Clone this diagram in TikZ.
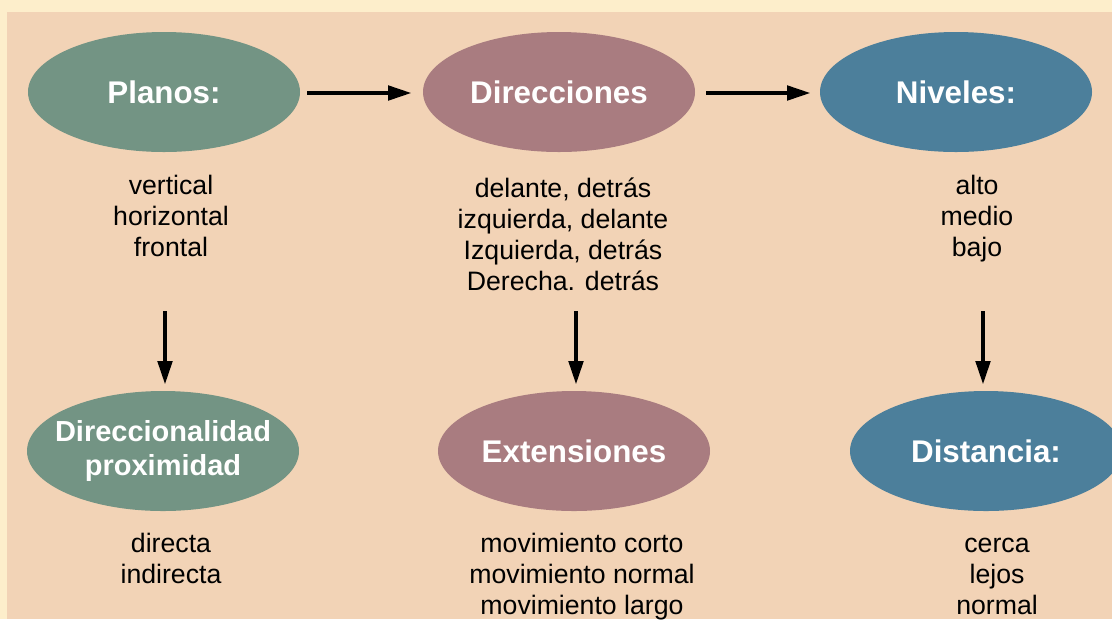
\documentclass[tikz,border=0pt]{standalone}
\usepackage{fontspec}
\setmainfont{Liberation Sans}
\usetikzlibrary{shapes.geometric,arrows.meta}
\definecolor{outerbg}{HTML}{FDEECB}
\definecolor{peach}{HTML}{F2D3B6}
\definecolor{cgreen}{HTML}{739484}
\definecolor{cmauve}{HTML}{A97C80}
\definecolor{cblue}{HTML}{4C7F9B}
\tikzset{
  oval/.style={ellipse, minimum width=204pt, minimum height=90pt, inner sep=0pt, text=white, font=\bfseries\fontsize{23.5pt}{26pt}\selectfont, align=center},
  items/.style={inner sep=0pt, align=center, text=black, font=\fontsize{20pt}{23.25pt}\selectfont},
  flow/.style={line width=3.6pt, -{Triangle[length=18pt, width=10.5pt]}}
}
\begin{document}
\begin{tikzpicture}[x=0.75pt, y=-0.75pt]
\useasboundingbox (0,0) rectangle (1112,619);
\clip (0,0) rectangle (1112,619);
\fill[outerbg] (0,0) rectangle (1112,619);
\fill[peach] (7,12) rectangle (1112,619);

\node[oval, fill=cgreen] (planos) at (164,92) {Planos:};
\node[oval, fill=cmauve] (direc) at (559,92) {Direcciones};
\node[oval, fill=cblue] (niveles) at (956,92) {Niveles:};

\node[oval, fill=cgreen, inner xsep=-12pt, font=\bfseries\fontsize{21.75pt}{25.5pt}\selectfont] (direccional) at (163,451) {Direccionalidad\\proximidad};
\node[oval, fill=cmauve] (ext) at (574,451) {Extensiones};
\node[oval, fill=cblue] (dist) at (986,451) {Distancia:};

\node[items] (lplanos) at (171,216) {vertical\\horizontal\\frontal};
\node[items] (ldirec) at (563,234) {delante, detrás\\izquierda, delante\\Izquierda, detrás\\Derecha. detrás};
\node[items] (lniveles) at (977,219) {alto\\medio\\bajo};
\node[items] (ldireccional) at (171,558) {directa\\indirecta};
\node[items] (lext) at (582,577) {movimiento corto\\movimiento normal\\movimiento largo};
\node[items] (ldist) at (997,576) {cerca\\lejos\\normal};

\coordinate (h1s) at (307,93);
\coordinate (h1e) at (412,93);
\coordinate (h2s) at (706,93);
\coordinate (h2e) at (811,93);
\coordinate (v1s) at (165,311);
\coordinate (v1e) at (165,385);
\coordinate (v2s) at (576,311);
\coordinate (v2e) at (576,385);
\coordinate (v3s) at (983,311);
\coordinate (v3e) at (983,385);

\draw[flow] (h1s) -- (h1e);
\draw[flow] (h2s) -- (h2e);
\draw[flow] (v1s) -- (v1e);
\draw[flow] (v2s) -- (v2e);
\draw[flow] (v3s) -- (v3e);
\end{tikzpicture}
\end{document}
